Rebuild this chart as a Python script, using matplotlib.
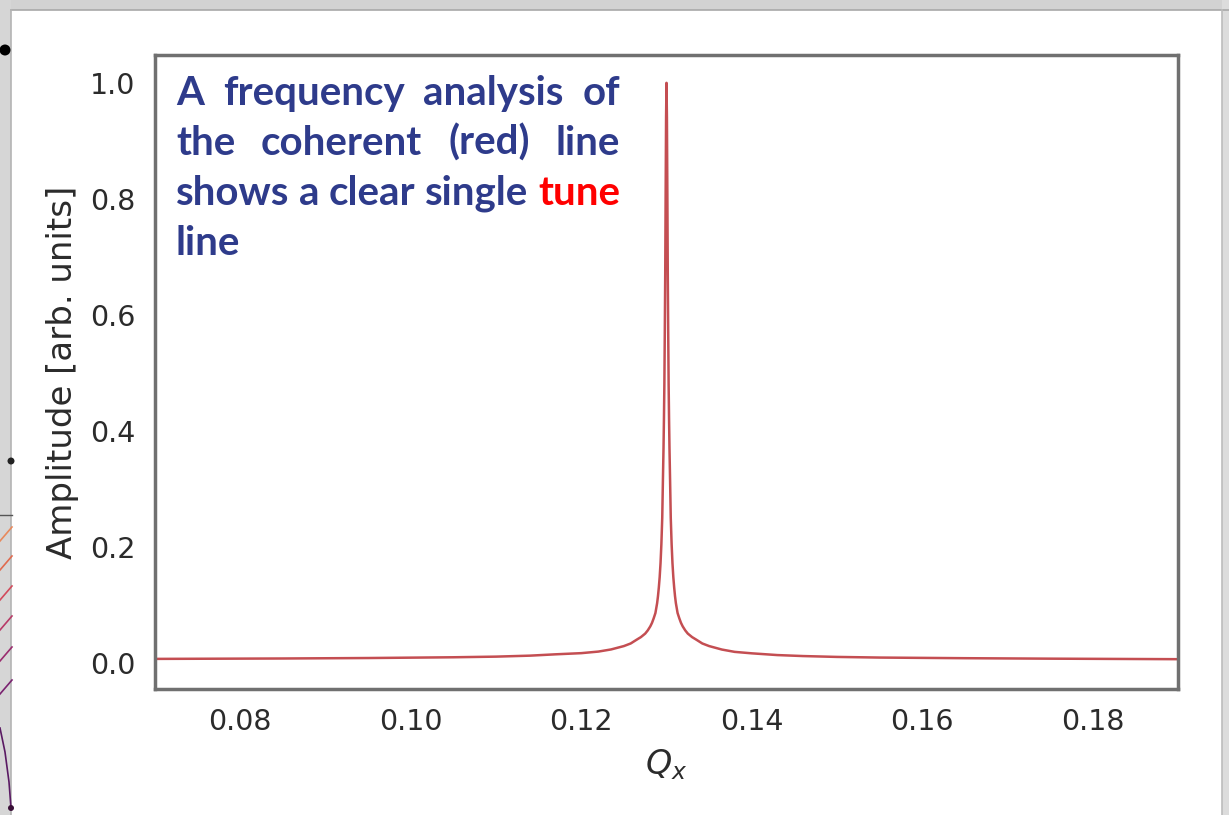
import matplotlib
matplotlib.use('Agg')
import matplotlib.pyplot as plt
from matplotlib.patches import Rectangle, Circle
from matplotlib.lines import Line2D
from matplotlib.transforms import IdentityTransform

# ---------------- data ----------------
q_tune = [0.0700, 0.0850, 0.0950, 0.1050, 0.1100, 0.1140, 0.1170, 0.1200,
          0.1220, 0.1235, 0.1250, 0.1258, 0.1265, 0.1270, 0.1275, 0.1278,
          0.1281, 0.1283, 0.1285, 0.1287, 0.1289, 0.1290, 0.1291, 0.1292,
          0.1293, 0.1294, 0.1295, 0.12958, 0.12965, 0.1297, 0.12975, 0.1298,
          0.12985, 0.1299, 0.12995, 0.1300,
          0.13005, 0.1301, 0.13015, 0.1302, 0.13025, 0.1303, 0.13035, 0.13042,
          0.1305, 0.1306, 0.1307, 0.1308, 0.1309, 0.1310, 0.1311, 0.1313,
          0.1315, 0.1317, 0.1319, 0.1322, 0.1325, 0.1330, 0.1335, 0.1342,
          0.1350, 0.1365, 0.1380, 0.1400, 0.1430, 0.1460, 0.1500, 0.1550,
          0.1650, 0.1750, 0.1900]
amplitude = [0.0069, 0.0076, 0.0084, 0.0097, 0.0108, 0.0125, 0.0148, 0.0168,
             0.0195, 0.0232, 0.0290, 0.0335, 0.0400, 0.0445, 0.0505, 0.0560,
             0.0630, 0.0690, 0.0770, 0.0860, 0.1030, 0.1150, 0.1300, 0.1480,
             0.1720, 0.2050, 0.2500, 0.3150, 0.3700, 0.4200, 0.4800, 0.5700,
             0.6700, 0.8100, 0.9400, 1.0000,
             0.9400, 0.8100, 0.6700, 0.5700, 0.4800, 0.4200, 0.3700, 0.3150,
             0.2500, 0.2050, 0.1720, 0.1480, 0.1300, 0.1150, 0.1030, 0.0860,
             0.0770, 0.0690, 0.0630, 0.0560, 0.0505, 0.0445, 0.0400, 0.0335,
             0.0290, 0.0230, 0.0190, 0.0165, 0.0135, 0.0118, 0.0103, 0.0092,
             0.0081, 0.0073, 0.0064]

x_ticks = [0.08, 0.10, 0.12, 0.14, 0.16, 0.18]
y_ticks = [0.0, 0.2, 0.4, 0.6, 0.8, 1.0]
x_tick_labels = ['0.08', '0.10', '0.12', '0.14', '0.16', '0.18']
y_tick_labels = ['0.0', '0.2', '0.4', '0.6', '0.8', '1.0']
x_label = r'$Q_x$'
y_label = 'Amplitude [arb. units]'

note_lines = [["A", "frequency", "analysis", "of"],
              ["the", "coherent", "(red)", "line"],
              ["shows", "a", "clear", "single", "tune"],
              ["line"]]
note_highlight = "tune"

# ---------------- figure ----------------
W, H = 1229, 815
fig = plt.figure(figsize=(W / 100, H / 100), dpi=100)
fig.patch.set_facecolor('white')
PIX = IdentityTransform()

def fx(px):
    return px / W

def fy(py):
    return 1 - py / H

# slide frame decoration
fig.add_artist(Rectangle((0, fy(10)), 1, 10 / H, transform=fig.transFigure,
                         facecolor='#d2d2d2', edgecolor='none', zorder=0))
fig.add_artist(Rectangle((0, 0), 11 / W, 1, transform=fig.transFigure,
                         facecolor='#d6d6d6', edgecolor='none', zorder=0))
fig.add_artist(Rectangle((fx(1222), 0), 7 / W, 1, transform=fig.transFigure,
                         facecolor='#dcdcdc', edgecolor='none', zorder=0))
fig.add_artist(Line2D([fx(11), 1], [fy(10), fy(10)], transform=fig.transFigure,
                      color='#a8a8a8', lw=1.2))
fig.add_artist(Line2D([fx(11), fx(11)], [0, fy(10)], transform=fig.transFigure,
                      color='#b4b4b4', lw=1.2))
fig.add_artist(Line2D([fx(1222), fx(1222)], [0, fy(10)], transform=fig.transFigure,
                      color='#bcbcbc', lw=1.2))
# fragments of a neighbouring figure at the left edge
fig.add_artist(Line2D([0, fx(12)], [fy(515), fy(515)], transform=fig.transFigure,
                      color='#555555', lw=1.0))
frag_y = [527, 556, 586, 616, 647, 680]
frag_c = ['#e8895c', '#e06a4e', '#d24a5b', '#b83a67', '#9a2c6e', '#7a2270']
for yy, cc in zip(frag_y, frag_c):
    fig.add_artist(Line2D([fx(12), 0], [fy(yy), fy(yy + 14)], transform=fig.transFigure,
                          color=cc, lw=1.2))
fig.add_artist(Line2D([fx(0), fx(5), fx(9), fx(11)], [fy(728), fy(752), fy(782), fy(808)],
                      transform=fig.transFigure, color='#5a1a63', lw=1.2))
fig.add_artist(Circle((5, H - 50), 5.5, transform=PIX,
                      facecolor='black', edgecolor='none', zorder=5))
fig.add_artist(Circle((11, H - 461), 3.5, transform=PIX,
                      facecolor='#222222', edgecolor='none', zorder=5))
fig.add_artist(Circle((11, H - 808), 3, transform=PIX,
                      facecolor='#3a1038', edgecolor='none', zorder=5))

# ---------------- axes ----------------
ax = fig.add_axes([fx(155), fy(689), (1178 - 155) / W, (689 - 55) / H])
ax.set_facecolor('white')
ax.plot(q_tune, amplitude, color='#C44E52', lw=1.8,
        solid_joinstyle='round', solid_capstyle='round')
ax.set_xlim(0.07, 0.19)
ax.set_ylim(-0.045, 1.048)
ax.set_xticks(x_ticks)
ax.set_xticklabels(x_tick_labels)
ax.set_yticks(y_ticks)
ax.set_yticklabels(y_tick_labels)
ax.tick_params(length=0, labelsize=20.5, labelcolor='#2b2b2b', pad=14)
for s in ax.spines.values():
    s.set_color('#707070')
    s.set_linewidth(2.5)

ax.set_ylabel(y_label, fontsize=24.5, color='#2b2b2b')
ax.yaxis.label.set_va('center')
ax.yaxis.set_label_coords((63 - 155) / (1178 - 155), 0.5)
ax.set_xlabel(x_label, fontsize=24, color='#2b2b2b')
ax.xaxis.label.set_va('center')
ax.xaxis.set_label_coords(0.5, (689 - 765) / (689 - 55))

# ---------------- justified note ----------------
renderer = fig.canvas.get_renderer()
note_color = '#2E3B8B'
font = dict(family=['Lato', 'DejaVu Sans'], fontweight='bold')
x_left, x_right = 176, 620
baselines = [105, 155, 205, 255]

probe = fig.text(0, 0, " ".join(note_lines[2]), fontsize=30, **font)
pw = probe.get_window_extent(renderer).width
probe.remove()
fs = 30 * (x_right - x_left) / pw

sp = fig.text(0, 0, "a a", fontsize=fs, **font)
sa = fig.text(0, 0, "aa", fontsize=fs, **font)
space_w = sp.get_window_extent(renderer).width - sa.get_window_extent(renderer).width
sp.remove(); sa.remove()

for i, words in enumerate(note_lines):
    texts = [fig.text(0, 0, w, fontsize=fs,
                      color=('#FF0000' if w == note_highlight else note_color),
                      va='baseline', ha='left', **font) for w in words]
    widths = [t.get_window_extent(renderer).width for t in texts]
    if len(words) > 1 and i < len(note_lines) - 1:
        gap = (x_right - x_left - sum(widths)) / (len(words) - 1)
    else:
        gap = space_w
    x = x_left
    for t, w in zip(texts, widths):
        t.set_position((fx(x), fy(baselines[i])))
        x += w + gap

fig.savefig('out.png', dpi=100, facecolor='white')
